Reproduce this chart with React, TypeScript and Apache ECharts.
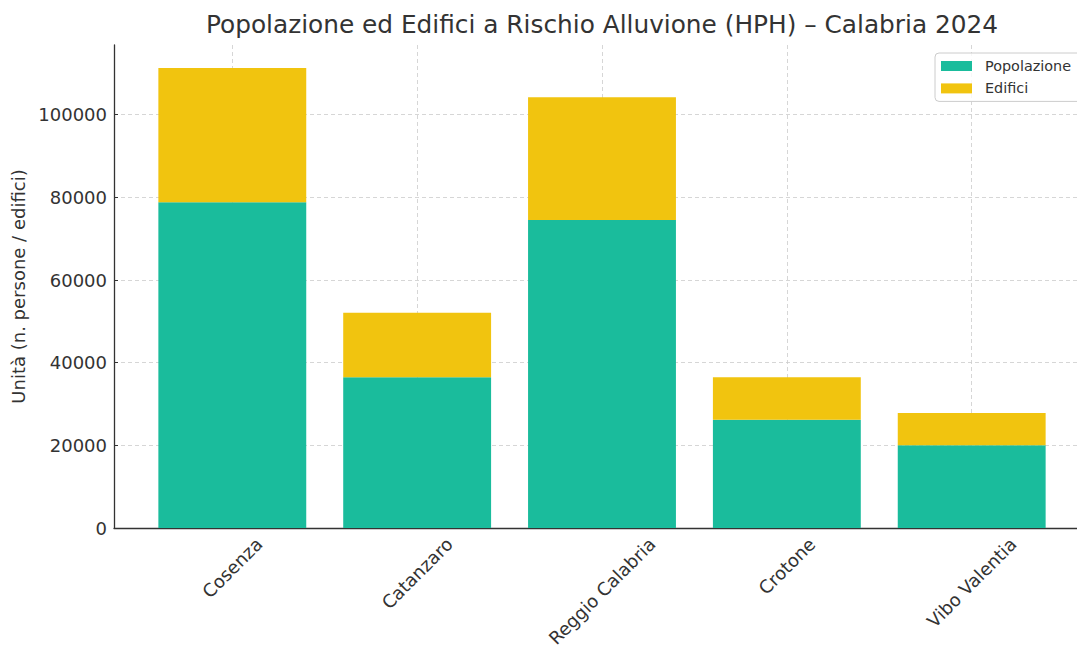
import React, { useEffect, useRef } from "react";
import * as echarts from "echarts";

const categories = ["Cosenza", "Catanzaro", "Reggio Calabria", "Crotone", "Vibo Valentia"];
const popolazione = [78800, 36500, 74500, 26200, 20000];
const edifici = [32500, 15600, 29700, 10300, 7800];
const yTicks = [0, 20000, 40000, 60000, 80000, 100000];
const xPositions = [0, 1, 2, 3, 4];

const FONT = "DejaVu Sans";
const TEXT = "#333333";

export default function App() {
  const ref = useRef<HTMLDivElement>(null);
  useEffect(() => {
    if (!ref.current) return;
    const chart = echarts.init(ref.current, undefined, { renderer: "svg" });

    const labelSize = 18;
    const canvas = document.createElement("canvas");
    const ctx = canvas.getContext("2d")!;
    ctx.font = `${labelSize}px "${FONT}"`;
    const rich: Record<string, any> = {};
    categories.forEach((c, i) => {
      const w = ctx.measureText(c).width;
      const p = (w + 14) / 2;
      rich["c" + i] = {
        fontFamily: FONT,
        fontSize: labelSize,
        color: TEXT,
        padding: [p, p, 0, 0],
      };
    });

    const totals = popolazione.map((v, i) => v + edifici[i]);
    const yMax = Math.max(...totals) * 1.05;

    chart.setOption({
      animation: false,
      backgroundColor: "#ffffff",
      textStyle: { fontFamily: FONT },
      title: {
        text: "Popolazione ed Edifici a Rischio Alluvione (HPH) – Calabria 2024",
        left: 602,
        top: 12,
        padding: 0,
        textAlign: "center",
        textStyle: { fontFamily: FONT, fontSize: 24.8, fontWeight: "normal", color: TEXT },
      },
      legend: {
        orient: "vertical",
        left: 935,
        top: 53,
        padding: [6, 10, 6, 6],
        itemWidth: 31,
        itemHeight: 10,
        itemGap: 8.4,
        icon: "rect",
        borderColor: "#cccccc",
        borderWidth: 1,
        borderRadius: 4,
        backgroundColor: "rgba(255,255,255,0.8)",
        textStyle: { fontFamily: FONT, fontSize: 14.4, color: TEXT, padding: [0, 0, 0, 8] },
        data: ["Popolazione", "Edifici"],
      },
      grid: {
        left: 114,
        top: 45,
        right: -13,
        bottom: 117,
        containLabel: false,
        outerBoundsMode: "none",
      },
      xAxis: {
        type: "value",
        min: -0.64,
        max: 4.64,
        axisLine: { show: true, onZero: false, lineStyle: { color: TEXT, width: 1.3 } },
        axisTick: {
          show: true,
          inside: true,
          length: 4,
          customValues: xPositions,
          lineStyle: { color: TEXT, width: 1 },
        },
        axisLabel: {
          customValues: xPositions,
          rotate: 45,
          align: "center",
          verticalAlign: "middle",
          margin: 8,
          formatter: (v: number) => {
            const i = Math.round(v);
            return categories[i] !== undefined ? `{c${i}|${categories[i]}}` : "";
          },
          rich,
        },
        splitLine: { show: true, lineStyle: { color: "#cccccc", width: 0.8, type: [4, 3] } },
      },
      yAxis: {
        type: "value",
        min: 0,
        max: yMax,
        name: "Unità (n. persone / edifici)",
        nameLocation: "middle",
        nameRotate: 90,
        nameGap: 76,
        nameTextStyle: { fontFamily: FONT, fontSize: 18, color: TEXT },
        axisLine: { show: true, onZero: false, lineStyle: { color: TEXT, width: 1.3 } },
        axisTick: {
          show: true,
          inside: true,
          length: 4,
          customValues: yTicks,
          lineStyle: { color: TEXT, width: 1 },
        },
        axisLabel: {
          customValues: yTicks,
          fontFamily: FONT,
          fontSize: 18,
          color: TEXT,
          margin: 7,
          formatter: (v: number) => String(Math.round(v)),
        },
        splitLine: { show: true, lineStyle: { color: "#cccccc", width: 0.8, type: [4, 3] } },
      },
      series: [
        {
          name: "Popolazione",
          type: "bar",
          stack: "tot",
          barWidth: "80%",
          encode: { x: 1, y: 0 },
          itemStyle: { color: "#1abc9c" },
          data: popolazione.map((v, i) => [v, xPositions[i]]),
        },
        {
          name: "Edifici",
          type: "bar",
          stack: "tot",
          barWidth: "80%",
          encode: { x: 1, y: 0 },
          itemStyle: { color: "#f1c40f" },
          data: edifici.map((v, i) => [v, xPositions[i]]),
        },
      ],
    });
    return () => chart.dispose();
  }, []);
  return (
    <div
      ref={ref}
      style={{ position: "fixed", left: 0, top: 0, width: 1077, height: 645 }}
    />
  );
}
